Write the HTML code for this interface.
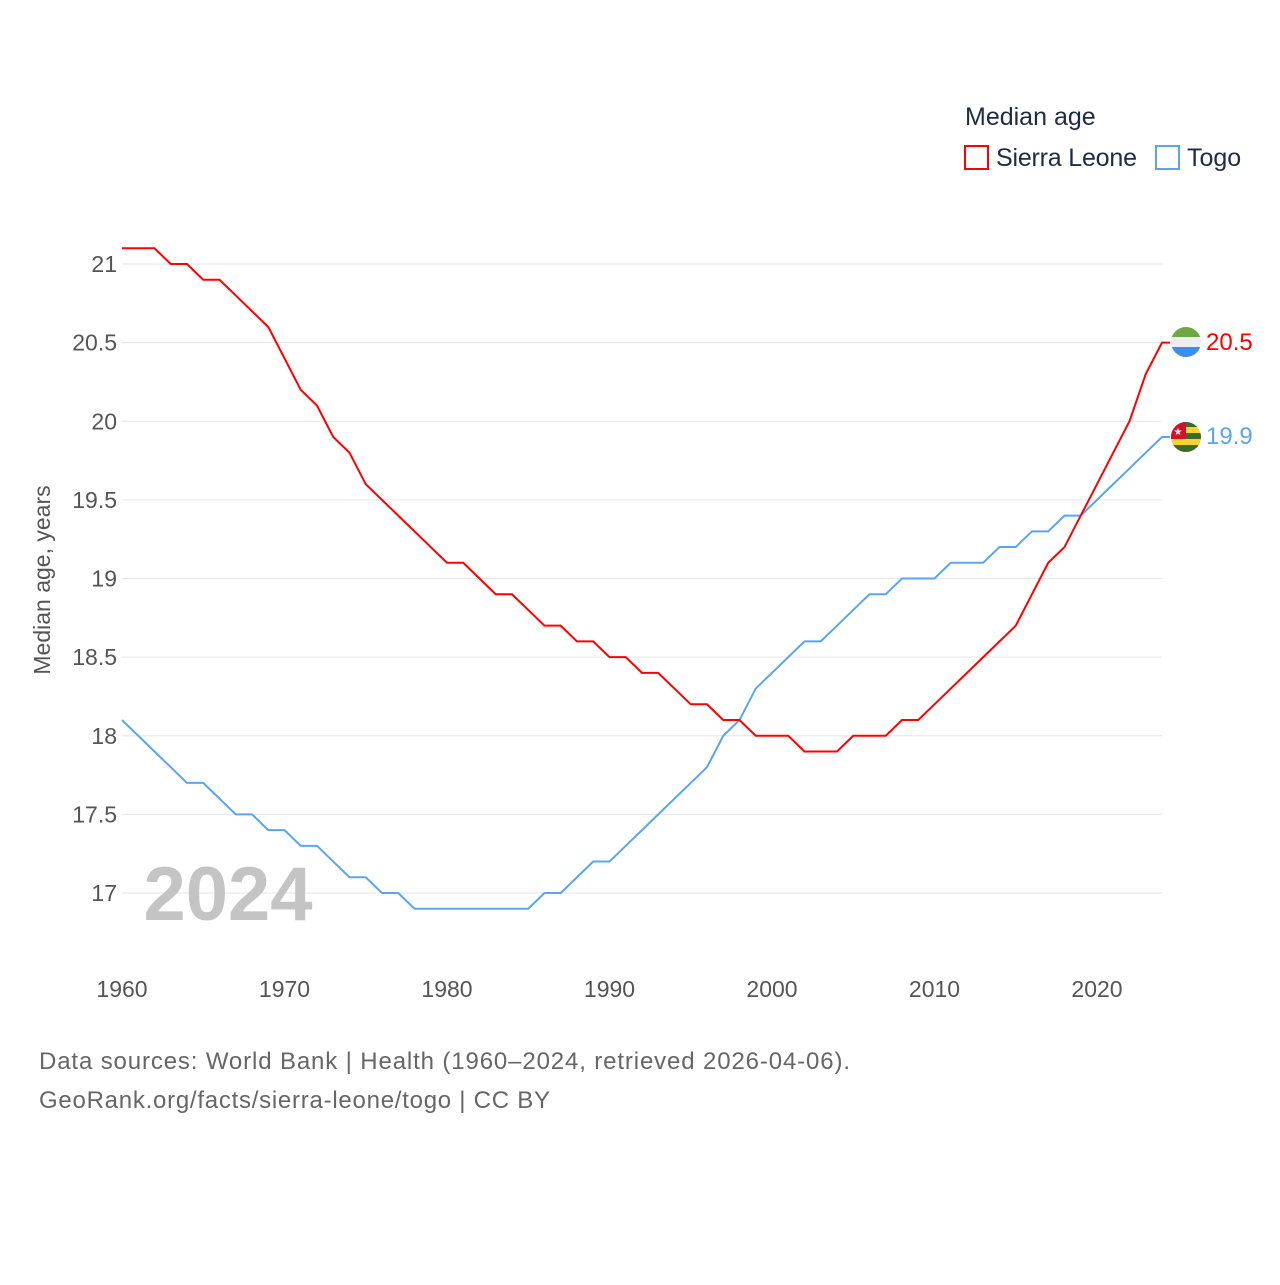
<!DOCTYPE html>
<html><head><meta charset="utf-8"><style>
body{margin:0;background:#fff;font-family:"Liberation Sans",sans-serif;}
svg text{font-family:"Liberation Sans",sans-serif;}
</style></head><body>
<svg width="1280" height="1280" viewBox="0 0 1280 1280">
<g id="grid"></g>
<g id="lines"></g>
<text x="965" y="125" font-size="25" fill="#1e2b45">Median age</text>
<g><rect x="965" y="146" width="23" height="23" fill="none" stroke="#ff0000" stroke-width="2"/><text x="996" y="166" font-size="25" fill="#1e2b45" textLength="141">Sierra Leone</text></g>
<g><rect x="1156" y="146" width="23" height="23" fill="none" stroke="#5aa5f0" stroke-width="2"/><text x="1187" y="166" font-size="25" fill="#1e2b45">Togo</text></g>
<text transform="translate(50,580) rotate(-90)" text-anchor="middle" font-size="23" fill="#555">Median age, years</text>
<text x="228" y="920" text-anchor="middle" font-size="76" font-weight="bold" fill="#c4c4c4">2024</text>
<text x="39" y="1069" font-size="24" fill="#666" textLength="811">Data sources: World Bank | Health (1960–2024, retrieved 2026-04-06).</text>
<text x="39" y="1108" font-size="24" fill="#666" textLength="511">GeoRank.org/facts/sierra-leone/togo | CC BY</text>
<defs><clipPath id="c1"><circle cx="1186" cy="342" r="15"/></clipPath><clipPath id="c2"><circle cx="1186" cy="437" r="15"/></clipPath></defs>
<g clip-path="url(#c1)"><rect x="1170" y="326" width="32" height="11" fill="#6ea843"/><rect x="1170" y="337" width="32" height="10" fill="#eee"/><rect x="1170" y="347" width="32" height="12" fill="#3a8ef0"/></g>
<g clip-path="url(#c2)"><rect x="1170" y="421" width="32" height="32" fill="#f2d530"/><rect x="1170" y="421" width="32" height="6" fill="#3b6b2a"/><rect x="1170" y="433" width="32" height="6" fill="#3b6b2a"/><rect x="1170" y="445" width="32" height="8" fill="#3b6b2a"/><rect x="1170" y="421" width="16" height="18" fill="#d2112e"/><text x="1178" y="435" font-size="10" fill="#fff" text-anchor="middle">★</text></g>
<text x="1206" y="350" font-size="24" fill="#ff0000">20.5</text>
<text x="1206" y="444" font-size="24" fill="#5aa5f0">19.9</text>
</svg>
<script>
const years=[];for(let y=1960;y<=2024;y++)years.push(y);
const sierraLeone=[21.1,21.1,21.1,21.0,21.0,20.9,20.9,20.8,20.7,20.6,20.4,20.2,20.1,19.9,19.8,19.6,19.5,19.4,19.3,19.2,19.1,19.1,19.0,18.9,18.9,18.8,18.7,18.7,18.6,18.6,18.5,18.5,18.4,18.4,18.3,18.2,18.2,18.1,18.1,18.0,18.0,18.0,17.9,17.9,17.9,18.0,18.0,18.0,18.1,18.1,18.2,18.3,18.4,18.5,18.6,18.7,18.9,19.1,19.2,19.4,19.6,19.8,20.0,20.3,20.5];
const togo=[18.1,18.0,17.9,17.8,17.7,17.7,17.6,17.5,17.5,17.4,17.4,17.3,17.3,17.2,17.1,17.1,17.0,17.0,16.9,16.9,16.9,16.9,16.9,16.9,16.9,16.9,17.0,17.0,17.1,17.2,17.2,17.3,17.4,17.5,17.6,17.7,17.8,18.0,18.1,18.3,18.4,18.5,18.6,18.6,18.7,18.8,18.9,18.9,19.0,19.0,19.0,19.1,19.1,19.1,19.2,19.2,19.3,19.3,19.4,19.4,19.5,19.6,19.7,19.8,19.9];
const yTicks=[17,17.5,18,18.5,19,19.5,20,20.5,21];
const xTicks=[1960,1970,1980,1990,2000,2010,2020];
const xs=y=>122+(y-1960)*16.25, ys=v=>893-(v-17)*157.25;
const NS="http://www.w3.org/2000/svg";
const g=document.getElementById('grid'), L=document.getElementById('lines');
yTicks.forEach(t=>{
 const l=document.createElementNS(NS,'line');
 l.setAttribute('x1',122);l.setAttribute('x2',1162);l.setAttribute('y1',ys(t));l.setAttribute('y2',ys(t));
 l.setAttribute('stroke','#e6e6e6');
 
 
 g.appendChild(l);
 const tx=document.createElementNS(NS,'text');
 tx.setAttribute('x',117);tx.setAttribute('y',ys(t)+8);tx.setAttribute('text-anchor','end');tx.setAttribute('font-size','23');tx.setAttribute('fill','#555');
 tx.textContent=t;
 
 
 g.appendChild(tx);
});
xTicks.forEach(t=>{
 const tx=document.createElementNS(NS,'text');
 tx.setAttribute('x',xs(t));tx.setAttribute('y',997);tx.setAttribute('text-anchor','middle');tx.setAttribute('font-size','23');tx.setAttribute('fill','#555');
 tx.textContent=t;
 
 
 g.appendChild(tx);
});
function draw(vals,color,name){
 let d='';
 vals.forEach((v,i)=>{d+=(i?'L':'M')+xs(years[i])+','+ys(v);});
 d+='L'+(xs(years[years.length-1])+8)+','+ys(vals[vals.length-1]);
 const p=document.createElementNS(NS,'path');
 p.setAttribute('d',d);p.setAttribute('fill','none');p.setAttribute('stroke',color);p.setAttribute('stroke-width','2');
 
 
 L.appendChild(p);
}
draw(togo,'#5aa5f0','togo-line');
draw(sierraLeone,'#ff0000','sierra-leone-line');
</script>
</body></html>
